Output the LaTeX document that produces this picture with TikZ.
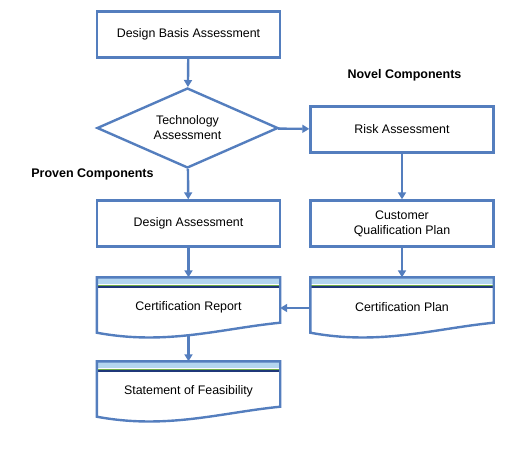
\documentclass[tikz,border=0pt]{standalone}
\usepackage{fontspec}
\setmainfont{Liberation Sans}
\usetikzlibrary{shapes.geometric,arrows.meta,calc}
\definecolor{lineblue}{RGB}{84,126,190}
\definecolor{bandblue}{RGB}{180,214,240}
\definecolor{bandgreen}{RGB}{112,173,71}
\definecolor{bandnavy}{RGB}{31,56,120}
\tikzset{
  x=1pt, y=-1pt,
  procbox/.style={draw=lineblue, line width=2.4pt, fill=white, minimum width=183pt, minimum height=46pt, inner sep=0pt, font=\fontsize{12.4}{15}\selectfont, align=center},
  decision/.style={diamond, draw=lineblue, line width=2.4pt, fill=white, minimum width=181pt, minimum height=80pt, inner sep=0pt, aspect=2.2, font=\fontsize{12.4}{15}\selectfont, align=center},
  docbox/.style={minimum width=183pt, minimum height=57pt, inner sep=0pt, font=\fontsize{12.4}{15}\selectfont, align=center},
  doctext/.style={font=\fontsize{12.4}{15}\selectfont, inner sep=0pt},
  grouplabel/.style={font=\bfseries\fontsize{12.5}{15}\selectfont, inner sep=0pt},
  arr/.style={draw=lineblue, line width=2.4pt, -{Triangle[width=8pt,length=7pt]}},
}
\newcommand{\docshape}[1]{%
  \path let \p1=(#1.north west), \p2=(#1.south east), \p3=(#1.south) in
    coordinate (#1-nw) at (\x1,\y1)
    coordinate (#1-ne) at (\x2,\y1)
    coordinate (#1-re) at (\x2,\y3+12)
    coordinate (#1-c1) at (\x2-60,\y3+6)
    coordinate (#1-c2) at (\x1+70,\y3-11)
    coordinate (#1-le) at (\x1,\y3+2);
  \fill[bandblue] (#1-nw) rectangle ([yshift=-7pt]#1-ne);
  \draw[bandgreen, line width=1pt] ([yshift=-7.8pt]#1-nw) -- ([yshift=-7.8pt]#1-ne);
  \draw[bandnavy, line width=2pt] ([yshift=-10pt]#1-nw) -- ([yshift=-10pt]#1-ne);
  \draw[lineblue, line width=2.4pt, line join=miter] (#1-le) -- (#1-nw) -- (#1-ne) -- (#1-re)
    .. controls (#1-c1) and (#1-c2) .. (#1-le) -- cycle;
}
\begin{document}
\begin{tikzpicture}
\useasboundingbox (0,0) rectangle (520,451);
\node[procbox] (dba) at (188.5,34.5) {Design Basis Assessment};
\node[decision] (ta) at (187.5,128) {Technology\\Assessment};
\node[procbox] (ra) at (402,129.5) {Risk Assessment};
\node[procbox] (da) at (188.5,223.5) {Design Assessment};
\node[procbox] (cqp) at (402,223.5) {Customer\\Qualification Plan};
\node[docbox] (crep) at (188.5,306) {};
\node[docbox] (cplan) at (402,306) {};
\node[docbox] (sof) at (188.5,390) {};
\docshape{crep}
\docshape{cplan}
\docshape{sof}
\node[doctext] (crept) at (188.5,307.5) {Certification Report};
\node[doctext] (cplant) at (402,307.5) {Certification Plan};
\node[doctext] (soft) at (188.5,391.5) {Statement of Feasibility};
\node[grouplabel] (novel) at (404.5,75) {Novel Components};
\node[grouplabel] (proven) at (92.5,174) {Proven Components};
\draw[arr] (dba) -- (ta);
\draw[arr] (ta) -- (ra);
\draw[arr] (ta) -- (da);
\draw[arr] (ra) -- (cqp);
\draw[arr] (da) -- (crep.north);
\draw[arr] (cqp) -- (cplan.north);
\draw[arr] ([yshift=-2pt]cplan.west) -- ([yshift=-2pt]crep.east);
\draw[arr] (crep.south) -- (sof.north);
\end{tikzpicture}
\end{document}
